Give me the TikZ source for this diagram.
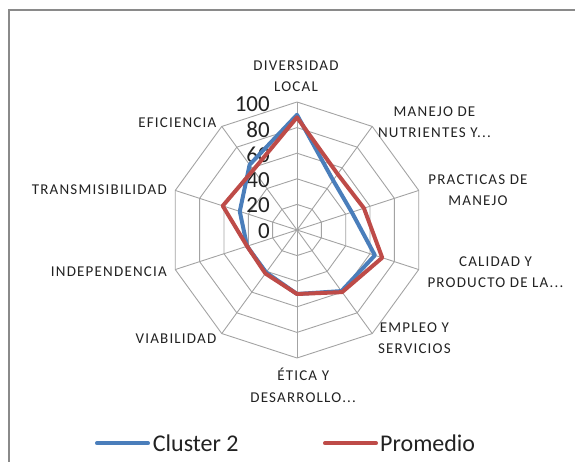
\documentclass[tikz,border=0pt]{standalone}
\usepackage{fontspec}
\setmainfont{Carlito}
\newfontfamily\labfont[LetterSpace=8]{Carlito}
\definecolor{gridgray}{HTML}{A3A3A3}
\definecolor{framegray}{HTML}{8A8A8A}
\definecolor{cblue}{HTML}{4A7EBB}
\definecolor{cred}{HTML}{BE4B48}
\definecolor{txt}{HTML}{222222}
\begin{document}
\begin{tikzpicture}[x=1pt,y=1pt,
  grid/.style={draw=gridgray, line width=0.9pt},
  serie/.style={line width=4pt, line join=round, line cap=round},
  catlab/.style={font=\labfont\fontsize{15}{21}\selectfont, align=center, inner sep=0pt, text=txt},
  numlab/.style={font=\fontsize{23}{23}\selectfont, anchor=east, inner sep=0pt, text=txt},
  leglab/.style={font=\fontsize{24}{24}\selectfont, anchor=west, inner sep=0pt, text=txt}]
\useasboundingbox (0,0) rectangle (575,462);
\draw[framegray, line width=2pt] (9,0) -- (9,452) -- (575,452);
\begin{scope}[shift={(297,232)}]
  \coordinate (O) at (0,0);
  % rings
  \foreach \k in {1,...,5} {
    \draw[grid] (90:\k*25.6) \foreach \i in {1,...,9} { -- (90-\i*36:\k*25.6) } -- cycle;
  }
  % spokes
  \foreach \i in {0,...,9} {
    \coordinate (v\i) at (90-\i*36:128);
    \draw[grid] (O) -- (v\i);
  }
  % axis numbers
  \node[numlab] (n0) at (-27,-0.8) {0};
  \node[numlab] (n1) at (-27,24.5) {20};
  \node[numlab] (n2) at (-27,49.8) {40};
  \node[numlab] (n3) at (-27,75.1) {60};
  \node[numlab] (n4) at (-27,100.4) {80};
  \node[numlab] (n5) at (-27,125.7) {100};
  % data
  \foreach \v [count=\i from 0] in {90,48,45,64,59,50,41,41,47,63} {
    \coordinate (b\i) at (90-\i*36:\v*1.28);
  }
  \foreach \v [count=\i from 0] in {88,54,55,70,60,50,42,41,61,58} {
    \coordinate (r\i) at (90-\i*36:\v*1.28);
  }
  \draw[serie, draw=cblue] (b0) -- (b1) -- (b2) -- (b3) -- (b4) -- (b5) -- (b6) -- (b7) -- (b8) -- (b9) -- cycle;
  \draw[serie, draw=cred] (r0) -- (r1) -- (r2) -- (r3) -- (r4) -- (r5) -- (r6) -- (r7) -- (r8) -- (r9) -- cycle;
\end{scope}
% category labels
\node[catlab] (c0) at (296,385.8) {DIVERSIDAD\\LOCAL};
\node[catlab] (c1) at (434.5,339.8) {MANEJO DE\\NUTRIENTES Y...};
\node[catlab] (c2) at (478,272.3) {PRACTICAS DE\\MANEJO};
\node[catlab] (c3) at (495.5,190.3) {CALIDAD Y\\PRODUCTO DE LA...};
\node[catlab] (c4) at (414.4,123.7) {EMPLEO Y\\SERVICIOS};
\node[catlab] (c5) at (303.2,76.7) {ÉTICA Y\\DESARROLLO...};
\node[catlab, anchor=east] (c6) at (216.5,123.7) {VIABILIDAD};
\node[catlab, anchor=east] (c7) at (167,190.3) {INDEPENDENCIA};
\node[catlab, anchor=east] (c8) at (167,272.7) {TRANSMISIBILIDAD};
\node[catlab, anchor=east] (c9) at (216.5,339.7) {EFICIENCIA};
% legend
\coordinate (lb1) at (97,18.7);
\coordinate (lb2) at (148,18.7);
\coordinate (lr1) at (325,18.7);
\coordinate (lr2) at (376,18.7);
\draw[serie, draw=cblue] (lb1) -- (lb2);
\draw[serie, draw=cred] (lr1) -- (lr2);
\node[leglab] (lgb) at (152.7,18.7) {Cluster 2};
\node[leglab] (lgr) at (380,18.7) {Promedio};
\end{tikzpicture}
\end{document}
